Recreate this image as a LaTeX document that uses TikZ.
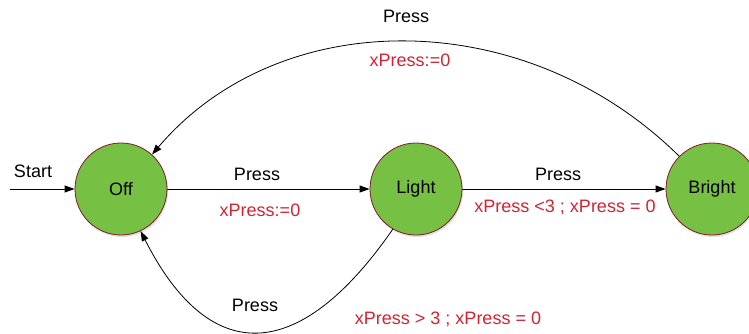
\documentclass[tikz,border=0pt]{standalone}
\usepackage{fontspec}
\setmainfont{Liberation Sans}
\usetikzlibrary{arrows.meta,shadows}
\definecolor{stategreen}{RGB}{118,192,67}
\definecolor{stateborder}{RGB}{130,25,45}
\definecolor{guardred}{RGB}{208,36,50}
\begin{document}
\begin{tikzpicture}[x=1pt,y=-1pt,
  state/.style={circle,draw=stateborder,line width=0.8pt,fill=stategreen,minimum size=92pt,inner sep=0pt,
    drop shadow={opacity=0.25,shadow xshift=1pt,shadow yshift=-2pt},font=\fontsize{18}{21}\selectfont},
  lbl/.style={inner sep=0pt,font=\fontsize{18}{21}\selectfont},
  rlbl/.style={lbl,text=guardred},
  conn/.style={line width=0.8pt,-{Triangle[length=10pt,width=7pt]}}]
\useasboundingbox (0,0) rectangle (749,334);
\node[state] (off) at (121,189) {Off};
\node[state] (light) at (416,189) {Light};
\node[state] (bright) at (712,189) {Bright};
\coordinate (start) at (10,189);
\draw[conn] (start) -- (off);
\node[lbl] (tstart) at (33,171) {Start};
\draw[conn] (off) -- (light);
\node[lbl] (p1) at (257,174) {Press};
\node[rlbl] (g1) at (260,210) {xPress:=0};
\draw[conn] (light) -- (bright);
\node[lbl] (p2) at (558,174) {Press};
\node[rlbl] (g2) at (565,207) {xPress <3 ; xPress = 0};
\draw[conn] (bright.135) .. controls (525,4) and (280,4) .. (off.48);
\node[lbl] (p3) at (406,16) {Press};
\node[rlbl] (g3) at (410,60) {xPress:=0};
\draw[conn] (light.240) .. controls (298,366) and (209,366) .. (off.295);
\node[lbl] (p4) at (255,305) {Press};
\node[rlbl] (g4) at (448,319) {xPress > 3 ; xPress = 0};
\end{tikzpicture}
\end{document}
